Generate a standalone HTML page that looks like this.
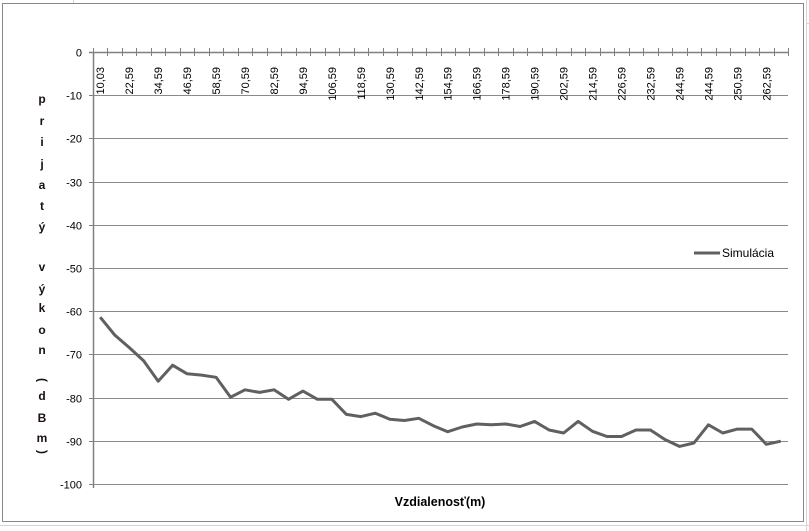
<!DOCTYPE html>
<html><head><meta charset="utf-8">
<style>
html,body{margin:0;padding:0;background:#fff;width:809px;height:531px;overflow:hidden;}
svg{display:block;font-family:"Liberation Sans",Arial,sans-serif;}
</style></head>
<body>
<svg id="chart" width="809" height="531" viewBox="0 0 809 531">
  <g stroke="#d4d4d4" stroke-width="1">
    <line x1="0" y1="525.5" x2="809" y2="525.5"/>
    <line x1="806.5" y1="0" x2="806.5" y2="531"/>
    <line x1="73.5" y1="0" x2="73.5" y2="3"/>
    <line x1="806" y1="23.5" x2="809" y2="23.5"/>
  </g>
  <rect x="2.5" y="3.5" width="801" height="518" fill="#fff" stroke="#888" stroke-width="1"/>
  <g id="grid"></g>
  <g id="axes"></g>
  <g id="ylabels" font-size="11" fill="#000" text-anchor="end"></g>
  <g id="xlabels" font-size="11" fill="#000"></g>
  <g id="ytitle" font-size="12" font-weight="bold" fill="#1a1010" text-anchor="middle"></g>
  <text x="440" y="506" font-size="12.5" font-weight="bold" text-anchor="middle" fill="#000">Vzdialenosť(m)</text>
  <path id="series" fill="none" stroke="#606060" stroke-width="3" stroke-linejoin="round"/>
  <g>
    <line x1="694" y1="253" x2="720" y2="253" stroke="#606060" stroke-width="3"/>
    <text x="722" y="257" font-size="12" fill="#000">Simulácia</text>
  </g>
</svg>
<script>
const xLabels = ["10,03","22,59","34,59","46,59","58,59","70,59","82,59","94,59","106,59","118,59","130,59","142,59","154,59","166,59","178,59","190,59","202,59","214,59","226,59","232,59","244,59","244,59","250,59","262,59"];
const values = [-61.4,-65.5,-68.4,-71.5,-76.2,-72.5,-74.5,-74.8,-75.3,-79.9,-78.2,-78.8,-78.2,-80.4,-78.5,-80.4,-80.4,-83.9,-84.4,-83.6,-85.0,-85.3,-84.8,-86.5,-87.9,-86.8,-86.1,-86.3,-86.1,-86.7,-85.5,-87.5,-88.2,-85.5,-87.8,-89.0,-89.0,-87.5,-87.5,-89.7,-91.3,-90.5,-86.3,-88.2,-87.3,-87.3,-90.8,-90.1];
const yTicks = [0,-10,-20,-30,-40,-50,-60,-70,-80,-90,-100];
const yTitleChars = ["p","r","i","j","a","t","ý","v","ý","k","o","n",")","d","B","m","("];

const NS = "http://www.w3.org/2000/svg";
const X0 = 93, X1 = 788, Y0 = 52, Y1 = 484;
const titleY = [99,121,142,164,185,206,227,267,289,308,330,350,380,396,418,438,452];
const n = values.length;
const cw = (X1 - X0) / n;
function xPos(i){ return X0 + cw * (i + 0.5); }
function yPos(v){ return Y0 + (0 - v) / 100 * (Y1 - Y0); }
function mk(tag, attrs, parent){ const e = document.createElementNS(NS, tag); for (const k in attrs) e.setAttribute(k, attrs[k]); parent.appendChild(e); return e; }

const grid = document.getElementById('grid');
const axes = document.getElementById('axes');
const yl = document.getElementById('ylabels');
yTicks.forEach(t => {
  const y = Math.round(yPos(t)) + 0.5;
  if (t !== 0) {
    const g = mk('line', {x1:X0, x2:X1, y1:y, y2:y, stroke:'#8a8a8a', 'stroke-width':1}, grid);
    
    
  }
  const tk = mk('line', {x1:X0-4, x2:X0, y1:y, y2:y, stroke:'#808080', 'stroke-width':1}, axes);
  
  
  const tx = mk('text', {x:82, y:y+4}, yl);
  tx.textContent = t;
  
  
});
const ya = mk('line', {x1:X0+0.5, x2:X0+0.5, y1:Y0, y2:Y1+4, stroke:'#808080', 'stroke-width':1.5}, axes);


const xa = mk('line', {x1:X0-4, x2:X1, y1:Y0+0.5, y2:Y0+0.5, stroke:'#808080', 'stroke-width':1.5}, axes);


for (let i = 0; i <= n; i++) {
  const x = Math.round(X0 + cw * i) + 0.5;
  const tk = mk('line', {x1:x, x2:x, y1:Y0-4, y2:Y0+4, stroke:'#808080', 'stroke-width':1}, axes);
  
  
}
const xl = document.getElementById('xlabels');
xLabels.forEach((lab, k) => {
  const x = xPos(k * 2) + 4;
  const tx = mk('text', {x:0, y:0, transform:'translate(' + x + ',67) rotate(-90)', 'text-anchor':'end'}, xl);
  tx.textContent = lab;
  
  
});
const yt = document.getElementById('ytitle');
yTitleChars.forEach((c, i) => {
  const y = titleY[i];
  let t;
  if (c === '(' || c === ')') {
    t = mk('text', {x:0, y:0, transform:'translate(42,' + y + ') rotate(-90)', 'dominant-baseline':'middle'}, yt);
  } else {
    t = mk('text', {x:42, y:y + 4}, yt);
  }
  t.textContent = c;
  
  
});
let d = '';
values.forEach((v, i) => { d += (i ? 'L' : 'M') + xPos(i).toFixed(1) + ' ' + yPos(v).toFixed(1); });
document.getElementById('series').setAttribute('d', d);
</script>
</body></html>
